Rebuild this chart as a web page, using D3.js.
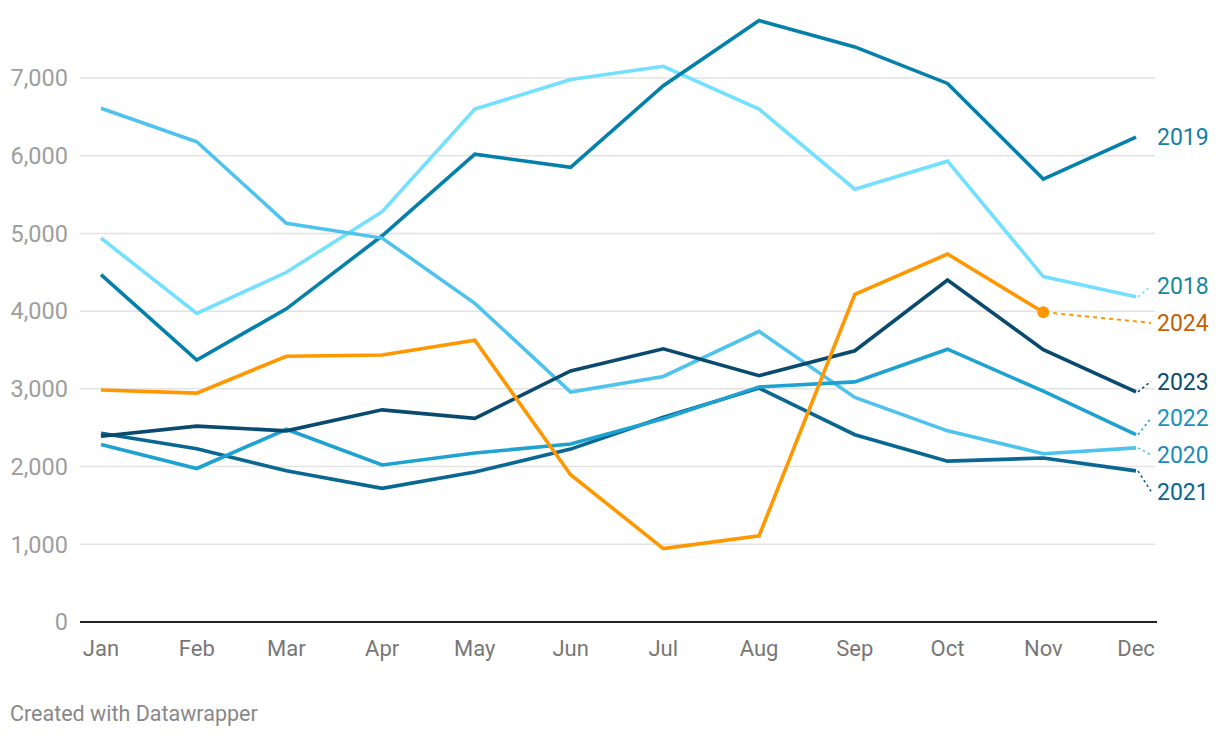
<!DOCTYPE html>
<html>
<head>
<meta charset="utf-8">
<script src="https://cdn.jsdelivr.net/npm/d3@7"></script>
<style>
  body { margin: 0; background: #fff; }
  svg { display: block; font-family: Roboto, sans-serif; }
</style>
</head>
<body>
<svg width="1220" height="738"></svg>
<script>
var months = ["Jan", "Feb", "Mar", "Apr", "May", "Jun", "Jul", "Aug", "Sep", "Oct", "Nov", "Dec"];
var years = ["2018", "2019", "2020", "2021", "2022", "2023", "2024"];

var v2018 = [4940, 3970, 4500, 5280, 6600, 6980, 7150, 6600, 5570, 5930, 4445, 4185];
var v2019 = [4470, 3370, 4030, 4970, 6020, 5850, 6900, 7740, 7400, 6930, 5700, 6240];
var v2020 = [6610, 6180, 5130, 4940, 4100, 2960, 3160, 3740, 2890, 2460, 2165, 2240];
var v2021 = [2430, 2230, 1945, 1720, 1930, 2225, 2635, 3010, 2410, 2070, 2110, 1945];
var v2022 = [2285, 1975, 2480, 2020, 2175, 2290, 2615, 3025, 3090, 3510, 2970, 2410];
var v2023 = [2390, 2520, 2460, 2730, 2620, 3230, 3515, 3170, 3490, 4400, 3505, 2960];
var v2024 = [2985, 2945, 3420, 3435, 3625, 1895, 945, 1110, 4215, 4735, 3985, null];

var yTicks = [0, 1000, 2000, 3000, 4000, 5000, 6000, 7000];

var lineColors = {"2018": "#74e0ff", "2019": "#0580aa", "2020": "#4ec3ee", "2021": "#0a6792", "2022": "#1da2d1", "2023": "#0a4a6f", "2024": "#ff9800"};
var labelColors = {"2018": "#16889d", "2019": "#1580a6", "2020": "#1a8cb6", "2021": "#0b668e", "2022": "#1a91bc", "2023": "#0a4a6f", "2024": "#c26204"};

var values = {"2018": v2018, "2019": v2019, "2020": v2020, "2021": v2021, "2022": v2022, "2023": v2023, "2024": v2024};
var dates = months.map(function(m, i) { return new Date(2024, i, 1); });

var svg = d3.select("svg");

var x = d3.scaleTime().domain([dates[0], dates[11]]).range([101, 1136]);
var y = d3.scaleLinear().domain([0, 7000]).range([622, 78]);

// grid + y labels
var yAxis = svg.append("g").attr("class", "y-axis");
yAxis.selectAll("line").data(yTicks.filter(function(d) { return d > 0; })).enter()
  .append("line")
  .attr("x1", 80).attr("x2", 1155)
  .attr("y1", function(d) { return y(d); })
  .attr("y2", function(d) { return y(d); })
  .attr("stroke", "#e3e3e3")
  .attr("stroke-width", 1.5);

yAxis.selectAll("text").data(yTicks).enter()
  .append("text")
  .attr("x", 68)
  .attr("y", function(d) { return y(d); })
  .attr("dy", "0.35em")
  .attr("text-anchor", "end")
  .attr("fill", "#9e9e9e")
  .style("font-size", "23.5px")
  .text(function(d) { return d3.format(",")(d); });

svg.append("line")
  .attr("x1", 80).attr("x2", 1157)
  .attr("y1", y(0)).attr("y2", y(0))
  .attr("stroke", "#222")
  .attr("stroke-width", 2);

svg.append("g").selectAll("text").data(dates).enter()
  .append("text")
  .attr("x", function(d) { return x(d); })
  .attr("y", 656)
  .attr("text-anchor", "middle")
  .attr("fill", "#777")
  .style("font-size", "22px")
  .text(function(d, i) { return months[i]; });

var line = d3.line()
  .defined(function(d) { return d.v != null; })
  .x(function(d) { return x(d.date); })
  .y(function(d) { return y(d.v); });

var series = years.map(function(yr) {
  var pts = values[yr].map(function(v, i) { return {date: dates[i], v: v}; });
  var last = pts.filter(function(p) { return p.v != null; }).pop();
  return {year: yr, points: pts, last: last};
});

svg.append("g").selectAll("path").data(series).enter()
  .append("path")
  .attr("d", function(s) { return line(s.points); })
  .attr("fill", "none")
  .attr("stroke", function(s) { return lineColors[s.year]; })
  .attr("stroke-width", 3.6)
  .attr("stroke-linejoin", "miter")
  .attr("stroke-linecap", "butt");

// label placement: push apart overlapping labels, keep clusters centred
var gap = 36.7;
var labels = series.map(function(s) { return {s: s, target: y(s.last.v)}; })
  .sort(function(a, b) { return a.target - b.target; });
var groups = labels.map(function(l) { return {items: [l], mean: l.target}; });
var merged = true;
while (merged) {
  merged = false;
  for (var i = 0; i < groups.length - 1; i++) {
    var a = groups[i], b = groups[i + 1];
    var aEnd = a.mean + (a.items.length - 1) * gap / 2;
    var bStart = b.mean - (b.items.length - 1) * gap / 2;
    if (bStart - aEnd < gap) {
      var items = a.items.concat(b.items);
      var mean = d3.mean(items, function(l) { return l.target; });
      groups.splice(i, 2, {items: items, mean: mean});
      merged = true;
      break;
    }
  }
}
groups.forEach(function(g) {
  g.items.forEach(function(l, k) {
    l.y = g.mean + (k - (g.items.length - 1) / 2) * gap;
  });
});

var labelX = 1157;
var lab = svg.append("g").selectAll("g").data(labels).enter().append("g");

lab.filter(function(l) { return Math.abs(l.y - l.target) > 2 || l.s.last.date < dates[11]; })
  .append("line")
  .attr("x1", function(l) { return x(l.s.last.date) + 2; })
  .attr("y1", function(l) { return l.target; })
  .attr("x2", labelX - 6)
  .attr("y2", function(l) { return l.y; })
  .attr("stroke", function(l) { return lineColors[l.s.year]; })
  .attr("stroke-width", function(l) { return l.s.last.date < dates[11] ? 2 : 1.6; })
  .attr("stroke-dasharray", function(l) { return l.s.last.date < dates[11] ? "4,4" : "2.5,3"; });

lab.append("text")
  .attr("x", labelX)
  .attr("y", function(l) { return l.y; })
  .attr("dy", "0.36em")
  .attr("fill", function(l) { return labelColors[l.s.year]; })
  .style("font-size", "23px")
  .text(function(l) { return l.s.year; });

// end dot for 2024
var s24 = series.filter(function(s) { return s.year == "2024"; })[0];
svg.append("circle")
  .attr("cx", x(s24.last.date))
  .attr("cy", y(s24.last.v))
  .attr("r", 6)
  .attr("fill", lineColors["2024"]);

svg.append("text")
  .attr("x", 10)
  .attr("y", 721)
  .attr("fill", "#888")
  .style("font-size", "21.5px")
  .text("Created with Datawrapper");
</script>
</body>
</html>
